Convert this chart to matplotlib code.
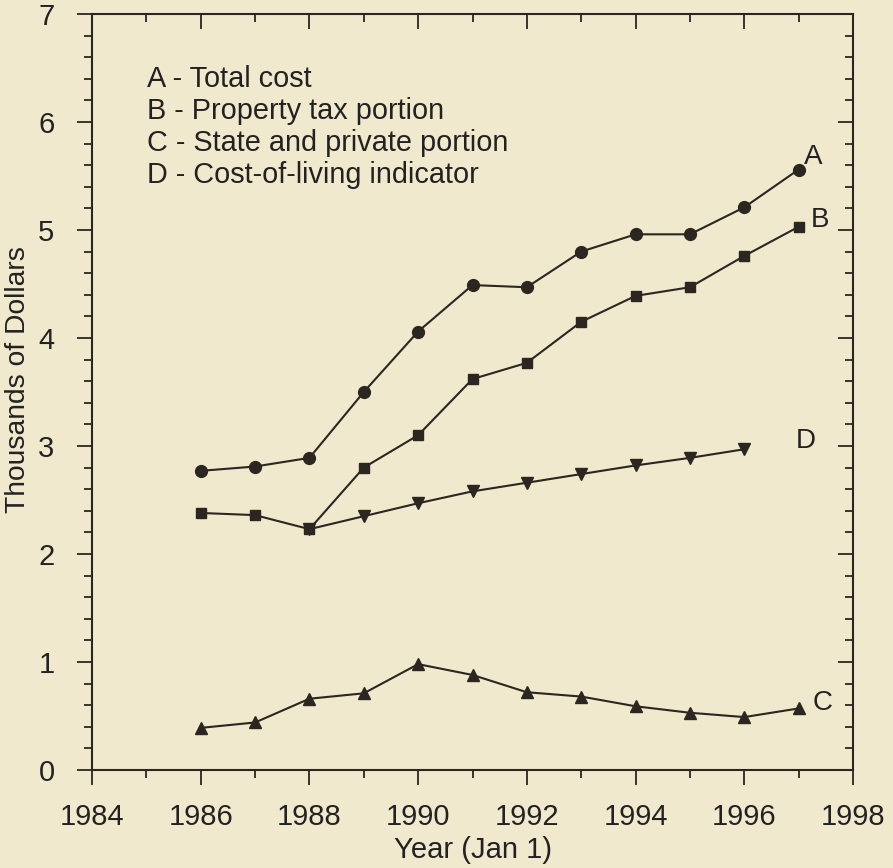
import matplotlib
matplotlib.use("Agg")
import matplotlib.pyplot as plt
from matplotlib.ticker import MultipleLocator

plt.rcParams["font.family"] = ["Liberation Sans", "DejaVu Sans"]

years = [1986, 1987, 1988, 1989, 1990, 1991, 1992, 1993, 1994, 1995, 1996, 1997]
total_cost = [2.77, 2.81, 2.89, 3.50, 4.06, 4.49, 4.47, 4.80, 4.96, 4.96, 5.21, 5.56]
property_tax = [2.38, 2.36, 2.23, 2.80, 3.10, 3.62, 3.77, 4.15, 4.39, 4.47, 4.76, 5.03]
state_private = [0.39, 0.44, 0.66, 0.71, 0.98, 0.88, 0.72, 0.68, 0.59, 0.53, 0.49, 0.57]
col_years = [1988, 1989, 1990, 1991, 1992, 1993, 1994, 1995, 1996]
cost_of_living = [2.23, 2.35, 2.47, 2.58, 2.66, 2.74, 2.82, 2.89, 2.97]

legend_lines = ["A - Total cost", "B - Property tax portion",
                "C - State and private portion", "D - Cost-of-living indicator"]

bg = "#f1e9cd"
ink = "#2b2620"
txt = "#222"

fig = plt.figure(figsize=(8.93, 8.68), dpi=100, facecolor=bg)
ax = fig.add_axes([92 / 893, 1 - 770 / 868, (853 - 92) / 893, (770 - 14) / 868])
ax.set_facecolor(bg)

ax.plot(years, total_cost, color=ink, lw=1.5, marker="o", ms=8.5)
ax.plot(years, property_tax, color=ink, lw=1.5, marker="s", ms=7.8)
ax.plot(years, state_private, color=ink, lw=1.5, marker="^", ms=9)
ax.plot(col_years, cost_of_living, color=ink, lw=1.5, marker="v", ms=9)

ax.set_xlim(1984, 1998)
ax.set_ylim(0, 7)
ax.xaxis.set_major_locator(MultipleLocator(2))
ax.xaxis.set_minor_locator(MultipleLocator(1))
ax.yaxis.set_major_locator(MultipleLocator(1))
ax.yaxis.set_minor_locator(MultipleLocator(0.2))

ax.tick_params(which="both", direction="out", top=False, right=False,
               color=ink, width=1.3, labelsize=21, labelcolor=txt)
ax.tick_params(which="major", length=11)
ax.tick_params(which="minor", length=6)
ax.tick_params(axis="x", which="major", pad=13)
ax.tick_params(axis="y", which="major", pad=16)
for side in ["top", "right"]:
    sec = ax.secondary_xaxis("top") if side == "top" else ax.secondary_yaxis("right")
    loc = sec.xaxis if side == "top" else sec.yaxis
    loc.set_major_locator(MultipleLocator(2 if side == "top" else 1))
    loc.set_minor_locator(MultipleLocator(1 if side == "top" else 0.2))
    sec.tick_params(which="both", direction="in", color=ink, width=1.3, labelsize=0)
    sec.tick_params(which="major", length=11)
    sec.tick_params(which="minor", length=6)
    loc.set_ticklabels([])
    for s in sec.spines.values():
        s.set_visible(False)

for s in ax.spines.values():
    s.set_color(ink)
    s.set_linewidth(1.5)

ax.set_xlabel("Year (Jan 1)", fontsize=21, color=txt, labelpad=3)
ax.set_ylabel("Thousands of Dollars", fontsize=20.3, color=txt, labelpad=5)
ax.yaxis.label.set_y(0.516)

for i, line in enumerate(legend_lines):
    ax.text(1985.02, 6.324 - i * 0.296, line, fontsize=20.8, color=txt, va="baseline")

ax.text(1997.1, total_cost[-1] + 0.12, "A", fontsize=20, color=txt, va="center")
ax.text(1997.22, property_tax[-1] + 0.06, "B", fontsize=20, color=txt, va="center")
ax.text(1997.25, state_private[-1] + 0.05, "C", fontsize=20, color=txt, va="center")
ax.text(1996.95, 3.05, "D", fontsize=20, color=txt, va="center")

fig.savefig("out.png", dpi=100, facecolor=bg)
